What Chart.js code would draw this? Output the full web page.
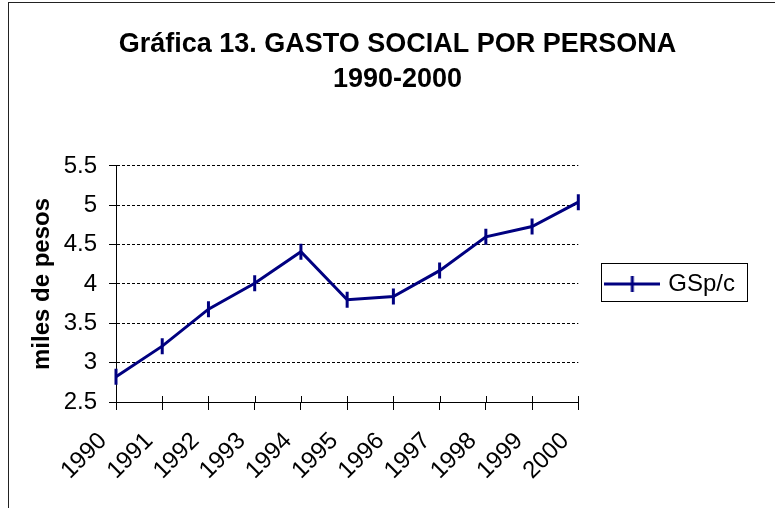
<!DOCTYPE html>
<html>
<head>
<meta charset="utf-8">
<script src="https://cdn.jsdelivr.net/npm/chart.js@4"></script>
<style>
  body { margin: 0; background: #fff; }
</style>
</head>
<body>
<canvas id="gastoChart" width="775" height="508"></canvas>
<script>
// datos de la grafica
var years = ['1990', '1991', '1992', '1993', '1994', '1995', '1996', '1997', '1998', '1999', '2000'];
var gastoPorPersona = [2.82, 3.21, 3.68, 4.01, 4.41, 3.80, 3.84, 4.17, 4.60, 4.73, 5.04];
var seriesName = 'GSp/c';
var titleLines = ['Gráfica 13. GASTO SOCIAL POR PERSONA', '1990-2000'];
var yAxisTitle = 'miles de pesos';

var navy = '#000080';

// muestra de la leyenda: linea con marca vertical
var legendMark = document.createElement('canvas');
legendMark.width = 56;
legendMark.height = 18;
var lm = legendMark.getContext('2d');
lm.strokeStyle = navy;
lm.lineWidth = 3;
lm.beginPath();
lm.moveTo(0, 9);
lm.lineTo(56, 9);
lm.moveTo(28, 1);
lm.lineTo(28, 17);
lm.stroke();

// marco exterior, recuadro de la leyenda, marcas cruzadas del eje X
var framePlugin = {
    id: 'framePlugin',
    afterLayout: function (chart) {
        // el titulo se centra sobre el area completa del grafico
        if (chart.titleBlock) {
            chart.titleBlock.left += 15;
            chart.titleBlock.right += 15;
        }
    },
    beforeDatasetsDraw: function (chart) {
        var ctx = chart.ctx;
        var xs = chart.scales.x;
        ctx.save();
        ctx.strokeStyle = '#000';
        ctx.lineWidth = 1;
        ctx.beginPath();
        for (var i = 0; i < years.length; i++) {
            var px = Math.round(xs.getPixelForTick(i)) + 0.5;
            ctx.moveTo(px, chart.chartArea.bottom - 6);
            ctx.lineTo(px, chart.chartArea.bottom);
        }
        ctx.stroke();
        ctx.restore();
    },
    afterDraw: function (chart) {
        var ctx = chart.ctx;
        ctx.save();
        ctx.strokeStyle = '#222';
        ctx.lineWidth = 1;
        ctx.strokeRect(8.5, 2.5, 1000, 1000);
        var hb = chart.legend && chart.legend.legendHitBoxes[0];
        if (hb) {
            var l = Math.round(hb.left - 7) + 0.5;
            var r = Math.round(hb.left + hb.width + 12) + 0.5;
            var t = Math.round(hb.top - 9) + 0.5;
            var b = Math.round(hb.top + hb.height + 5) + 0.5;
            ctx.strokeStyle = '#000';
            ctx.strokeRect(l, t, r - l, b - t);
        }
        ctx.restore();
    }
};

Chart.defaults.font.family = '"Liberation Sans", Arial, sans-serif';
Chart.defaults.color = '#000';

var ctx = document.getElementById('gastoChart').getContext('2d');
new Chart(ctx, {
    type: 'line',
    data: {
        labels: years,
        datasets: [{
            label: seriesName,
            data: gastoPorPersona,
            borderColor: navy,
            backgroundColor: navy,
            borderWidth: 3,
            pointStyle: 'line',
            pointRotation: 90,
            pointRadius: 8,
            pointBorderWidth: 3,
            pointBorderColor: navy,
            tension: 0,
            fill: false
        }]
    },
    options: {
        responsive: false,
        animation: false,
        layout: {
            padding: { left: 20, right: 30, top: 0, bottom: 0 }
        },
        plugins: {
            title: {
                display: true,
                text: titleLines,
                color: '#000',
                font: { size: 27, weight: 'bold', lineHeight: 1.296 },
                padding: { top: 27, bottom: 69 }
            },
            legend: {
                position: 'right',
                fullSize: false,
                labels: {
                    usePointStyle: true,
                    pointStyle: legendMark,
                    pointStyleWidth: 48,
                    padding: 30,
                    color: '#000',
                    font: { size: 24 },
                    generateLabels: function (chart) {
                        return [{
                            text: seriesName,
                            pointStyle: legendMark,
                            fillStyle: navy,
                            strokeStyle: navy,
                            lineWidth: 0,
                            hidden: false,
                            datasetIndex: 0
                        }];
                    }
                }
            },
            tooltip: { enabled: false }
        },
        scales: {
            x: {
                offset: false,
                afterFit: function (scale) { scale.height = 106; },
                grid: {
                    drawOnChartArea: false,
                    color: '#000',
                    tickLength: 8
                },
                border: { color: '#000', width: 1 },
                ticks: {
                    autoSkip: false,
                    maxRotation: 45,
                    minRotation: 45,
                    padding: 17,
                    labelOffset: -13,
                    font: { size: 24 }
                }
            },
            y: {
                min: 2.5,
                max: 5.5,
                afterFit: function (scale) { scale.width = 96; },
                grid: {
                    color: '#000',
                    lineWidth: 1,
                    tickLength: 7,
                    tickBorderDash: []
                },
                border: { color: '#000', width: 1, dash: [3, 2] },
                ticks: {
                    stepSize: 0.5,
                    padding: 12,
                    font: { size: 24 },
                    callback: function (value) { return String(value); }
                },
                title: {
                    display: true,
                    text: yAxisTitle,
                    color: '#000',
                    font: { size: 24, weight: 'bold' },
                    padding: { top: 8, bottom: 0 }
                }
            }
        }
    },
    plugins: [framePlugin]
});
</script>
</body>
</html>
